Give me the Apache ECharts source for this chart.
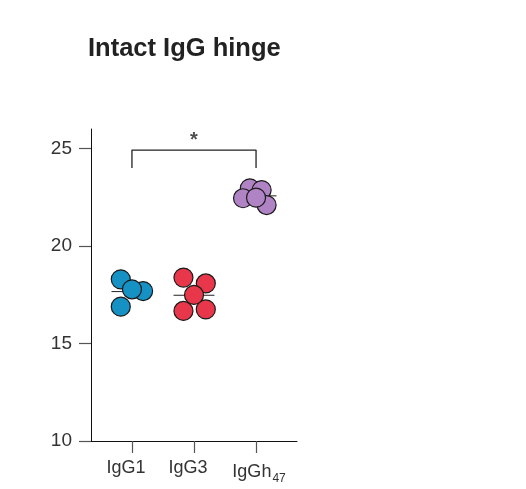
<!DOCTYPE html>
<html>
<head>
<meta charset="utf-8">
<script src="https://cdn.jsdelivr.net/npm/echarts@6/dist/echarts.min.js"></script>
<style>
	html, body { margin: 0; padding: 0; background: #fff; }
	#chart { width: 526px; height: 489px; }
</style>
</head>
<body>
<div id="chart"></div>
<script>
// groups on the x axis (1, 2, 3)
var categories = ['IgG1', 'IgG3', 'IgGh47'];
var yTicks = [10, 15, 20, 25];

// individual points, x = group position plus jitter
var igg1X = [1.18, 0.82, 0.82, 1.0];
var igg1Y = [17.69, 18.29, 16.89, 17.78];
var igg3X = [1.83, 2.19, 1.83, 2.19, 2.0];
var igg3Y = [18.38, 18.08, 16.67, 16.75, 17.49];
var igghX = [2.90, 3.09, 2.79, 3.17, 3.0];
var igghY = [22.96, 22.87, 22.45, 22.10, 22.48];

// significance bracket between IgG1 and IgGh47
var bracketX = [1, 1, 3, 3];
var bracketY = [24.0, 24.92, 24.92, 24.0];
var starPos = [2, 25.4];

var colors = ['#1591c4', '#e8374b', '#b083c4'];

function pairs(xs, ys) {
	var out = [];
	for (var i = 0; i < xs.length; i++) {
		out.push([xs[i], ys[i]]);
	}
	return out;
}

function mean(arr) {
	var s = 0;
	for (var i = 0; i < arr.length; i++) s += arr[i];
	return s / arr.length;
}

function meanLine(center, ys) {
	var m = mean(ys);
	return {
		type: 'line',
		data: [[center - 0.33, m], [center + 0.33, m]],
		symbol: 'none',
		lineStyle: { color: '#222', width: 1 },
		z: 1,
		silent: true
	};
}

function dots(xs, ys, color) {
	return {
		type: 'scatter',
		data: pairs(xs, ys),
		symbolSize: 19,
		itemStyle: { color: color, borderColor: '#1a1a1a', borderWidth: 1.2, opacity: 1 },
		z: 3
	};
}

var myChart = echarts.init(document.getElementById('chart'));

var lblFont = 'Liberation Sans, Arial';

var option = {
	animation: false,
	title: {
		text: 'Intact IgG hinge',
		left: 83,
		top: 31,
		textStyle: { fontFamily: lblFont, fontSize: 25.5, fontWeight: 'bold', color: '#222' }
	},
	grid: {
		left: 91,
		right: 229,
		top: 129,
		bottom: 48
	},
	xAxis: {
		type: 'value',
		min: 0.34,
		max: 3.66,
		splitLine: { show: false },
		axisLine: { lineStyle: { color: '#111', width: 1 } },
		axisTick: { customValues: [1, 2, 3], length: 12, lineStyle: { color: '#555', width: 1.2 } },
		axisLabel: {
			customValues: [1, 2, 3],
			margin: 18,
			fontFamily: lblFont,
			fontSize: 18,
			color: '#333',
			formatter: function (v) {
				var name = categories[Math.round(v) - 1];
				if (name === 'IgGh47') return '{h|IgGh}{sub|47}';
				return '{a|' + name + '}';
			},
			rich: {
				a: { fontSize: 18, color: '#333', fontFamily: lblFont, padding: [0, 12, 0, 0] },
				h: { fontSize: 18, color: '#333', fontFamily: lblFont, padding: [0, 0, 0, 6] },
				sub: { fontSize: 12, color: '#333', padding: [14, 0, 0, 1], fontFamily: lblFont }
			}
		}
	},
	yAxis: {
		type: 'value',
		min: 10,
		max: 26,
		splitLine: { show: false },
		axisLine: { show: true, lineStyle: { color: '#111', width: 1 } },
		axisTick: { show: true, customValues: yTicks, length: 12, lineStyle: { color: '#555', width: 1.2 } },
		axisLabel: {
			customValues: yTicks,
			margin: 19,
			fontFamily: lblFont,
			fontSize: 19,
			color: '#333'
		}
	},
	series: [
		meanLine(1, igg1Y),
		meanLine(2, igg3Y),
		meanLine(3, igghY),
		dots(igg1X, igg1Y, colors[0]),
		dots(igg3X, igg3Y, colors[1]),
		dots(igghX, igghY, colors[2]),
		{
			type: 'line',
			data: pairs(bracketX, bracketY),
			symbol: 'none',
			lineStyle: { color: '#222', width: 1.3 },
			silent: true
		},
		{
			type: 'scatter',
			data: [starPos],
			symbolSize: 0,
			silent: true,
			label: {
				show: true,
				position: 'inside',
				formatter: '*',
				fontFamily: lblFont,
				fontSize: 20,
				fontWeight: 'bold',
				color: '#222'
			}
		}
	]
};

myChart.setOption(option);
</script>
</body>
</html>
